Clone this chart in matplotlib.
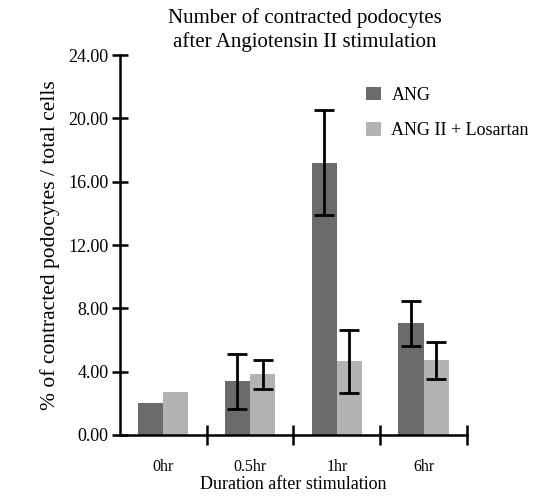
import matplotlib
matplotlib.use("Agg")
import matplotlib.pyplot as plt
import numpy as np

categories = ["0hr", "0.5hr", "1hr", "6hr"]
ang = [2.0, 3.4, 17.2, 7.05]
ang_err_lo = [0.0, 1.75, 3.3, 1.4]
ang_err_hi = [0.0, 1.7, 3.3, 1.4]
los = [2.7, 3.85, 4.65, 4.75]
los_err_lo = [0.0, 0.95, 2.0, 1.2]
los_err_hi = [0.0, 0.9, 2.0, 1.15]
yticks = [0, 4, 8, 12, 16, 20, 24]

plt.rcParams['font.family'] = ['Liberation Serif', 'DejaVu Serif']

fig = plt.figure(figsize=(5.35, 4.96), dpi=100)
ax = fig.add_axes([0.224, 0.123, 0.649, 0.766])

x = np.arange(len(categories))
w = 0.29
ekw = dict(ecolor='black', elinewidth=2, capsize=7, capthick=2)

ang_e = np.array([ang_err_lo, ang_err_hi])
los_e = np.array([los_err_lo, los_err_hi])
ax.bar(x - w / 2, ang, width=w, color='#6b6b6b', label='ANG')
ax.bar(x + w / 2, los, width=w, color='#b3b3b3', label='ANG II + Losartan')
for i in range(len(categories)):
    if ang_err_hi[i] > 0:
        ax.errorbar(x[i] - w / 2, ang[i], yerr=ang_e[:, i:i+1], fmt='none', **ekw)
    if los_err_hi[i] > 0:
        ax.errorbar(x[i] + w / 2, los[i], yerr=los_e[:, i:i+1], fmt='none', **ekw)

ax.set_xlim(-0.5, 3.5)
ax.set_ylim(0, 24)
ax.set_yticks(yticks)
ax.set_yticklabels([f"{v:.2f}" for v in yticks], fontsize=13)
ax.set_xticks(x)
ax.set_xticklabels(categories, fontsize=11.5)
ax.tick_params(axis='x', which='major', length=0, pad=17)
ax.set_xticks([0.5, 1.5, 2.5, 3.5], minor=True)
ax.tick_params(axis='x', which='minor', direction='inout', length=14, width=1.8)
ax.tick_params(axis='y', direction='inout', length=12, width=1.8, pad=2)

for s in ['top', 'right']:
    ax.spines[s].set_visible(False)
for s in ['left', 'bottom']:
    ax.spines[s].set_linewidth(1.8)

ax.set_ylabel("% of contracted podocytes / total cells", fontsize=15.5, labelpad=6)
ax.set_xlabel("Duration after stimulation", fontsize=13, labelpad=1)
fig.text(0.57, 1 - 30 / 496, "Number of contracted podocytes\nafter Angiotensin II stimulation",
         fontsize=15, ha='center', va='center', linespacing=1.3)

ax.legend(loc='upper right', bbox_to_anchor=(1.225, 0.96), frameon=False, fontsize=13,
          handlelength=0.8, handleheight=0.8, labelspacing=1.0, handletextpad=0.6)

fig.savefig("out.png", dpi=100)
